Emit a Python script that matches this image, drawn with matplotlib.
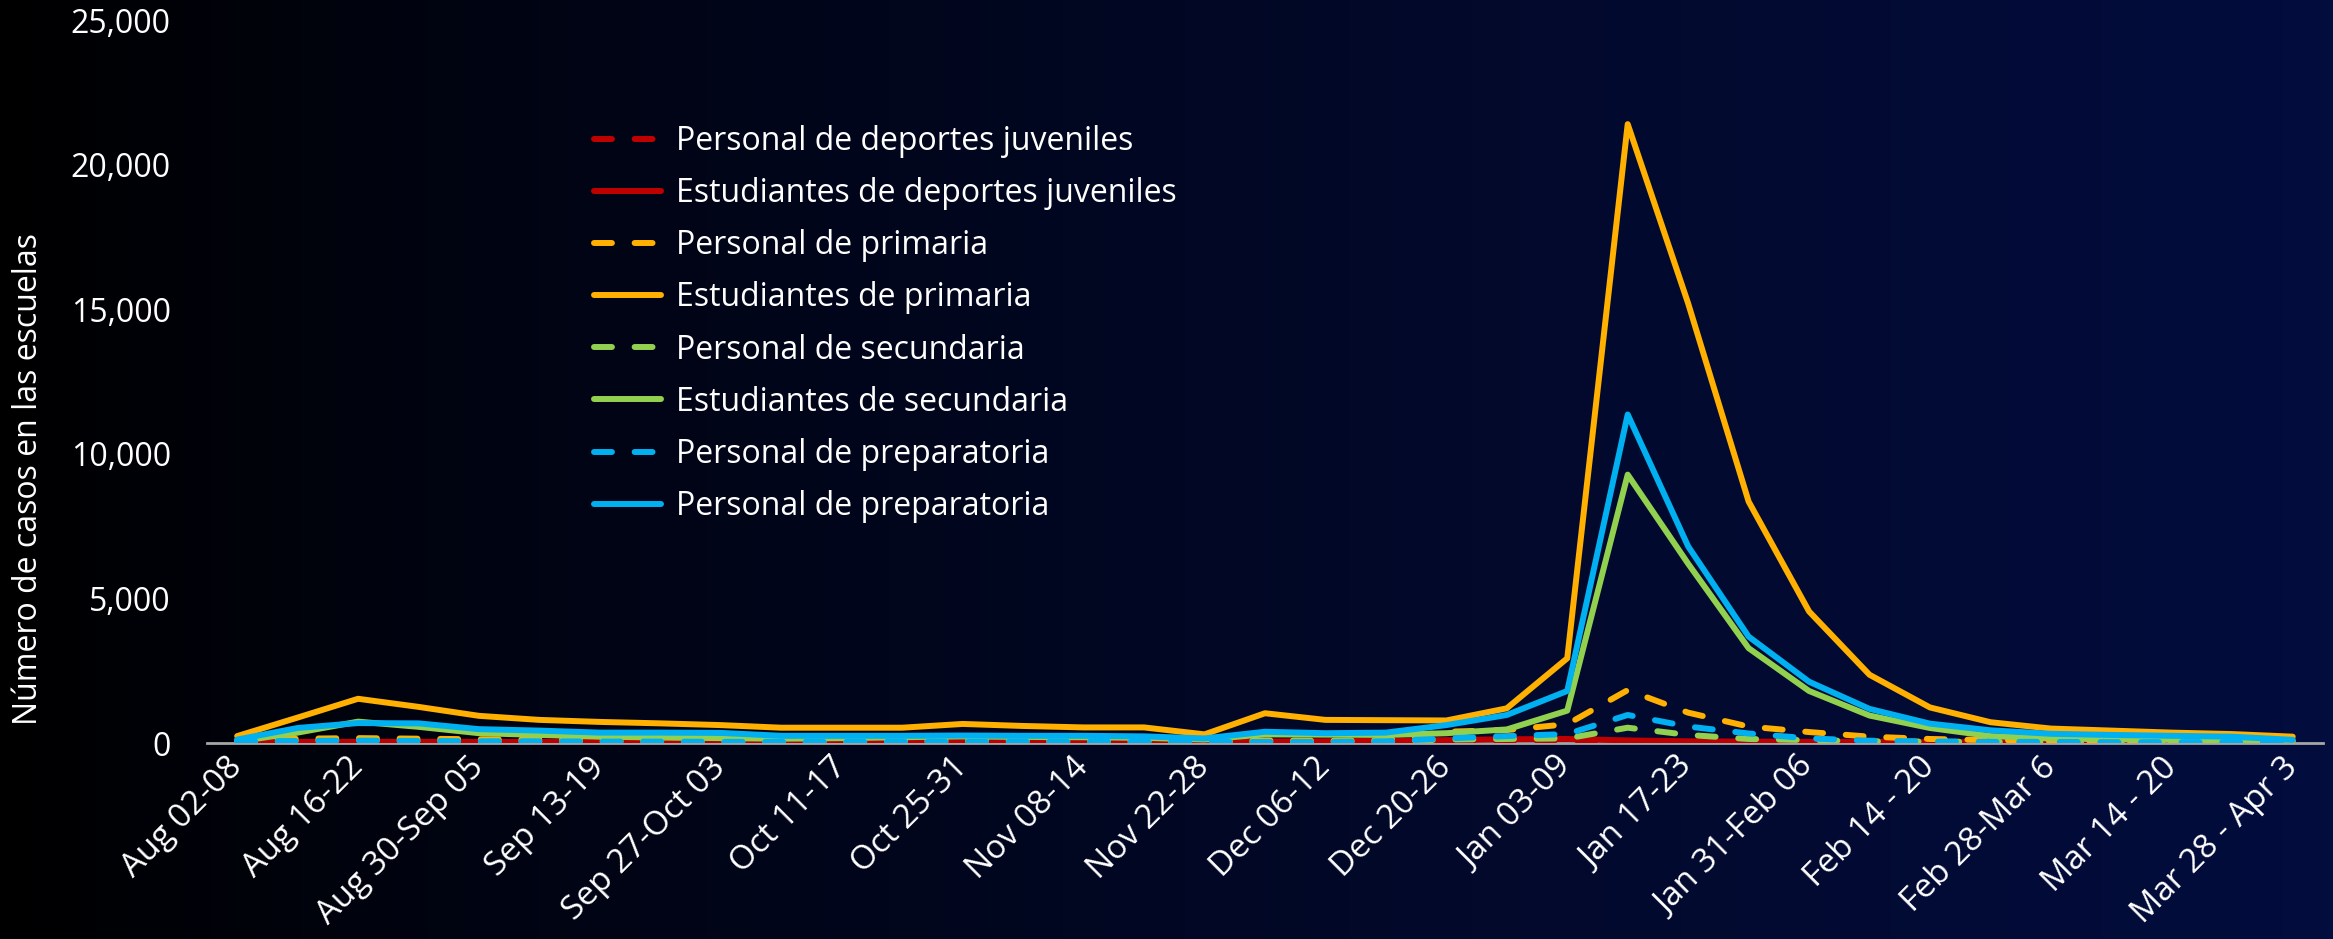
import numpy as np
import matplotlib.pyplot as plt
from matplotlib.ticker import FuncFormatter

plt.rcParams['font.family'] = ['Open Sans', 'DejaVu Sans']

weeks = ["Aug 02-08", "Aug 09-15", "Aug 16-22", "Aug 23-29", "Aug 30-Sep 05",
         "Sep 06-12", "Sep 13-19", "Sep 20-26", "Sep 27-Oct 03", "Oct 04-10",
         "Oct 11-17", "Oct 18-24", "Oct 25-31", "Nov 01-07", "Nov 08-14",
         "Nov 15-21", "Nov 22-28", "Nov 29-Dec 05", "Dec 06-12", "Dec 13-19",
         "Dec 20-26", "Dec 27-Jan 02", "Jan 03-09", "Jan 10-16", "Jan 17-23",
         "Jan 24-30", "Jan 31-Feb 06", "Feb 07-13", "Feb 14 - 20", "Feb 21-27",
         "Feb 28-Mar 6", "Mar 7-13", "Mar 14 - 20", "Mar 21-27", "Mar 28 - Apr 3"]

# weekly cases
staff_sports = [20, 25, 30, 30, 30, 30, 30, 30, 30, 30, 30, 30, 30, 30, 30, 30, 20,
                30, 30, 40, 60, 80, 90, 60, 40, 30, 30, 20, 20, 20, 20, 20, 20, 20, 20]
students_sports = [30, 40, 40, 40, 40, 40, 40, 40, 40, 40, 40, 40, 40, 40, 40, 40, 30,
                   50, 60, 80, 100, 130, 140, 90, 60, 50, 40, 40, 30, 30, 30, 30, 30, 30, 30]
staff_primary = [100, 150, 170, 150, 130, 120, 110, 100, 90, 80, 80, 80, 90, 80, 80, 70, 50,
                 90, 80, 100, 390, 450, 650, 1830, 1050, 570, 380, 220, 140, 100, 80, 70, 60, 50, 40]
students_primary = [240, 880, 1530, 1250, 940, 800, 730, 680, 620, 530, 530, 530, 660, 590, 540, 540, 300,
                    1030, 800, 790, 780, 1200, 2930, 21400, 15200, 8350, 4550, 2360, 1230, 720, 500,
                    430, 360, 310, 220]
staff_middle = [40, 80, 100, 80, 60, 50, 45, 40, 40, 40, 40, 40, 40, 40, 40, 40, 30,
                40, 40, 60, 120, 140, 160, 530, 280, 140, 100, 60, 50, 40, 40, 30, 30, 30, 30]
students_middle = [50, 360, 740, 560, 340, 280, 220, 190, 170, 150, 170, 200, 230, 210, 200, 180, 120,
                   300, 290, 280, 340, 470, 1120, 9280, 6200, 3280, 1800, 950, 520, 240, 160,
                   130, 110, 100, 80]
staff_high = [60, 70, 80, 70, 60, 60, 50, 50, 40, 40, 40, 40, 40, 40, 40, 40, 30,
              40, 40, 60, 160, 240, 310, 970, 570, 330, 160, 80, 50, 40, 40, 30, 30, 30, 30]
students_high = [120, 520, 690, 680, 480, 430, 360, 360, 350, 250, 250, 250, 260, 250, 250, 230, 160,
                 390, 340, 360, 620, 970, 1800, 11360, 6800, 3680, 2120, 1180, 670, 440, 320,
                 280, 250, 220, 110]

series = [
    ("Personal de deportes juveniles", staff_sports, "#C00000", True),
    ("Estudiantes de deportes juveniles", students_sports, "#C00000", False),
    ("Personal de primaria", staff_primary, "#FFB000", True),
    ("Estudiantes de primaria", students_primary, "#FFB000", False),
    ("Personal de secundaria", staff_middle, "#92D050", True),
    ("Estudiantes de secundaria", students_middle, "#92D050", False),
    ("Personal de preparatoria", staff_high, "#00B0F0", True),
    ("Personal de preparatoria", students_high, "#00B0F0", False),
]

fig = plt.figure(figsize=(23.33, 9.39), dpi=100)

# background gradient, black on the left to navy on the right
bg = fig.add_axes([0, 0, 1, 1], zorder=-10)
t = np.linspace(0, 1, 512)
grad = np.zeros((2, 512, 3))
right = np.array([3, 13, 62]) / 255.0
for k in range(3):
    grad[:, :, k] = right[k] * t ** 0.8
bg.imshow(grad, aspect='auto', extent=[0, 1, 0, 1])
bg.set_axis_off()

ax = fig.add_axes([0.0887, 0.2087, 0.9070, 0.7700])
ax.set_facecolor('none')
x = np.arange(len(weeks))
for label, vals, color, dashed in series:
    if dashed:
        ax.plot(x, vals, color=color, lw=4.3, dashes=(3.0, 3.8),
                dash_capstyle='round', label=label, zorder=3)
    else:
        ax.plot(x, vals, color=color, lw=4.3, solid_capstyle='round',
                label=label, zorder=3)

ax.set_xlim(-0.5, len(weeks) - 0.5)
ax.set_ylim(0, 25000)
ax.set_yticks(np.arange(0, 25001, 5000))
ax.yaxis.set_major_formatter(FuncFormatter(lambda v, p: f"{int(v):,}"))
ax.set_xticks(x[::2])
ax.set_xticklabels(weeks[::2], rotation=45, ha='right', va='center',
                   rotation_mode='anchor')

for s in ['top', 'right', 'left']:
    ax.spines[s].set_visible(False)
ax.spines['bottom'].set_color('#A6A6A6')
ax.spines['bottom'].set_linewidth(2)
ax.tick_params(axis='y', length=0, pad=26, labelsize=23, labelcolor='white')
ax.tick_params(axis='x', length=0, pad=14, labelsize=24, labelcolor='white')

ax.set_ylabel("Número de casos en las escuelas", fontsize=23, color='white')
ax.yaxis.set_label_coords(-0.0765, 0.365)

leg = ax.legend(loc='upper left', bbox_to_anchor=(0.183, 0.855), frameon=False,
                fontsize=23, labelcolor='white', handlelength=2.1,
                handletextpad=0.45, labelspacing=0.6, borderaxespad=0, borderpad=0)

fig.savefig('out.png', dpi=100)
